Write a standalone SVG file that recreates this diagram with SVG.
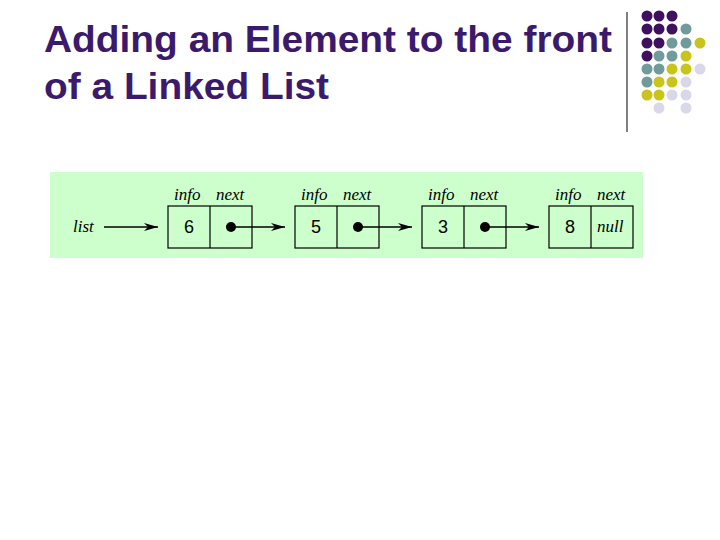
<svg xmlns="http://www.w3.org/2000/svg" width="720" height="540" viewBox="0 0 720 540">
<style>
.t{font-family:"Liberation Sans",Arial,sans-serif;font-weight:bold;font-size:37px;fill:#3b1a6b}
.i{font-family:"Liberation Serif","Times New Roman",serif;font-style:italic;font-size:17px;fill:#000}
.n{font-family:"Liberation Sans",Arial,sans-serif;font-size:18px;fill:#000;text-anchor:middle}
.b{fill:none;stroke:#000;stroke-width:1.2}
.l{stroke:#000;stroke-width:1.5}
.P{fill:#3d1060}.T{fill:#6f9c9a}.Y{fill:#c8c41a}.L{fill:#d8d8e8}
</style>
<defs><marker id="a" markerWidth="14" markerHeight="8" refX="14" refY="4" orient="auto" markerUnits="userSpaceOnUse"><path d="M0,0L14,4L0,8L4,4z" fill="#000"/></marker></defs>
<text class="t" x="44" y="52" textLength="568" lengthAdjust="spacingAndGlyphs">Adding an Element to the front</text>
<text class="t" x="44" y="99" textLength="285" lengthAdjust="spacingAndGlyphs">of a Linked List</text>
<line x1="627" y1="12" x2="627" y2="132" stroke="#000" stroke-width="1"/>
<g id="dots">
<circle class="P" cx="647" cy="16" r="5.5"/><circle class="P" cx="659" cy="16" r="5.5"/><circle class="P" cx="672" cy="16" r="5.5"/>
<circle class="P" cx="647" cy="29" r="5.5"/><circle class="P" cx="659" cy="29" r="5.5"/><circle class="P" cx="672" cy="29" r="5.5"/><circle class="T" cx="686" cy="29" r="5.5"/>
<circle class="P" cx="647" cy="43" r="5.5"/><circle class="P" cx="659" cy="43" r="5.5"/><circle class="T" cx="672" cy="43" r="5.5"/><circle class="T" cx="686" cy="43" r="5.5"/><circle class="Y" cx="700" cy="43" r="5.5"/>
<circle class="P" cx="647" cy="56" r="5.5"/><circle class="T" cx="659" cy="56" r="5.5"/><circle class="T" cx="672" cy="56" r="5.5"/><circle class="Y" cx="686" cy="56" r="5.5"/>
<circle class="T" cx="647" cy="69" r="5.5"/><circle class="T" cx="659" cy="69" r="5.5"/><circle class="Y" cx="672" cy="69" r="5.5"/><circle class="Y" cx="686" cy="69" r="5.5"/><circle class="L" cx="700" cy="69" r="5.5"/>
<circle class="T" cx="647" cy="82" r="5.5"/><circle class="Y" cx="659" cy="82" r="5.5"/><circle class="Y" cx="672" cy="82" r="5.5"/><circle class="L" cx="686" cy="82" r="5.5"/>
<circle class="Y" cx="647" cy="95" r="5.5"/><circle class="Y" cx="659" cy="95" r="5.5"/><circle class="L" cx="672" cy="95" r="5.5"/><circle class="L" cx="686" cy="95" r="5.5"/>
<circle class="L" cx="659" cy="108" r="5.5"/><circle class="L" cx="686" cy="108" r="5.5"/>
</g>
<rect x="50" y="172" width="593" height="86" fill="#ccffcc"/>
<text class="i" x="73" y="232">list</text>
<g id="n1"><rect class="b" x="168" y="206" width="84" height="42"/><line class="b" x1="210" y1="206" x2="210" y2="248"/><text class="i" x="174" y="200">info</text><text class="i" x="216" y="200">next</text><text class="n" x="189" y="233">6</text><circle cx="231" cy="227" r="5"/></g>
<g id="n2"><rect class="b" x="295" y="206" width="84" height="42"/><line class="b" x1="337" y1="206" x2="337" y2="248"/><text class="i" x="301" y="200">info</text><text class="i" x="343" y="200">next</text><text class="n" x="316" y="233">5</text><circle cx="358" cy="227" r="5"/></g>
<g id="n3"><rect class="b" x="422" y="206" width="84" height="42"/><line class="b" x1="464" y1="206" x2="464" y2="248"/><text class="i" x="428" y="200">info</text><text class="i" x="470" y="200">next</text><text class="n" x="443" y="233">3</text><circle cx="485" cy="227" r="5"/></g>
<g id="n4"><rect class="b" x="549" y="206" width="84" height="42"/><line class="b" x1="591" y1="206" x2="591" y2="248"/><text class="i" x="555" y="200">info</text><text class="i" x="597" y="200">next</text><text class="n" x="570" y="233">8</text><text class="i" x="597" y="232">null</text></g>
<g id="connectors">
<line class="l" x1="104" y1="227" x2="158" y2="227" marker-end="url(#a)"/>
<line class="l" x1="231" y1="227" x2="285" y2="227" marker-end="url(#a)"/>
<line class="l" x1="358" y1="227" x2="412" y2="227" marker-end="url(#a)"/>
<line class="l" x1="485" y1="227" x2="539" y2="227" marker-end="url(#a)"/>
</g>
</svg>
